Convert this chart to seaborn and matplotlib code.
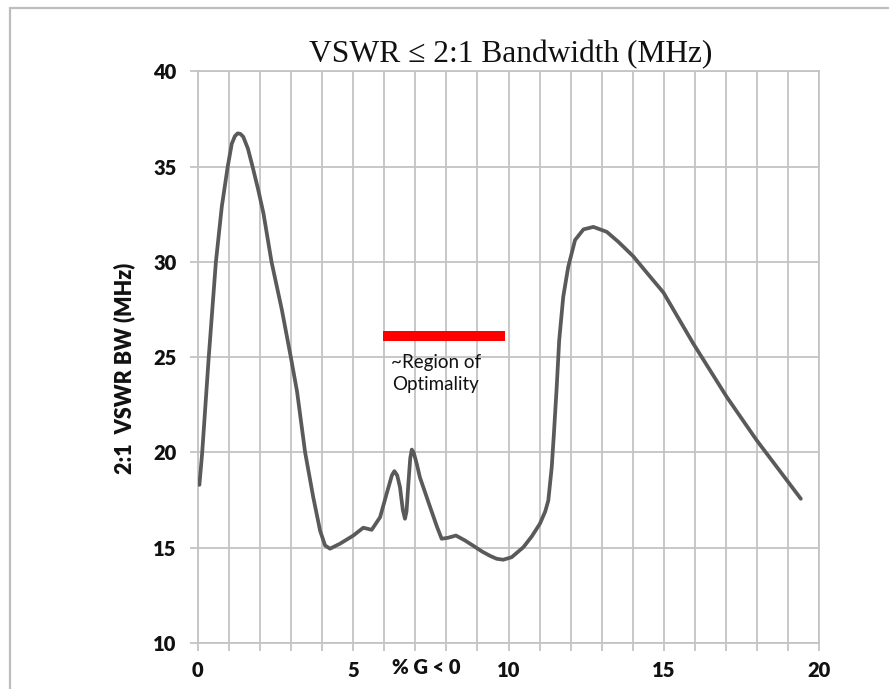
import matplotlib
matplotlib.use("Agg")
import matplotlib.pyplot as plt
from matplotlib.lines import Line2D
import seaborn as sns
import pandas as pd

# ---- data ----
pct_g = [0.06, 0.15, 0.36, 0.59, 0.78, 0.97, 1.10, 1.20, 1.29, 1.38, 1.47, 1.62,
         1.77, 1.95, 2.12, 2.38, 2.71, 3.00, 3.20, 3.46, 3.72, 3.94, 4.10, 4.26,
         4.58, 5.01, 5.33, 5.60, 5.87, 6.08, 6.25, 6.33, 6.42, 6.51, 6.60, 6.67,
         6.72, 6.78, 6.84, 6.89, 6.95, 7.05, 7.15, 7.48, 7.70, 7.85, 8.05, 8.31,
         8.60, 8.87, 9.15, 9.41, 9.62, 9.83, 10.10, 10.48, 10.75, 11.01, 11.18,
         11.28, 11.39, 11.46, 11.55, 11.63, 11.76, 11.92, 12.14, 12.41, 12.73,
         13.16, 13.53, 14.01, 14.44, 14.98, 15.94, 17.02, 17.98, 19.40]
vswr_bw = [18.3, 20.0, 25.0, 30.0, 32.9, 35.0, 36.2, 36.6, 36.75, 36.72, 36.57, 35.95,
           35.0, 33.8, 32.55, 30.0, 27.5, 25.0, 23.2, 20.0, 17.66, 15.9, 15.12, 14.95,
           15.21, 15.64, 16.05, 15.94, 16.6, 17.83, 18.8, 19.02, 18.8, 18.18, 17.0, 16.52,
           16.9, 18.36, 19.7, 20.15, 20.0, 19.4, 18.7, 17.13, 16.1, 15.47, 15.52, 15.64,
           15.38, 15.1, 14.8, 14.57, 14.42, 14.37, 14.5, 15.03, 15.6, 16.26, 16.9,
           17.48, 19.23, 20.99, 23.44, 25.89, 28.17, 29.74, 31.15, 31.71, 31.84,
           31.58, 31.06, 30.3, 29.45, 28.4, 25.72, 22.91, 20.64, 17.57]

region_x = [5.95, 9.9]
region_y = [26.1, 26.1]
region_label = "~Region of\nOptimality"

x_ticks = list(range(0, 21))
x_tick_labels = [str(t) if t % 5 == 0 else "" for t in x_ticks]
y_ticks = [10, 15, 20, 25, 30, 35, 40]

title = "VSWR \u2264 2:1 Bandwidth (MHz)"
x_label = "% G < 0"
y_label = "2:1  VSWR BW (MHz)"

# ---- styling ----
sns.set_theme(style="white")
plt.rcParams["font.family"] = ["Lato", "DejaVu Sans"]

grid_c = "#c4c4c4"
line_c = "#5a5a5a"
txt_c = "#111111"

fig = plt.figure(figsize=(8.89, 6.89), dpi=100)
fig.patch.set_facecolor("white")
ax = fig.add_axes([0.2222, 0.0668, 0.6996, 0.8295])

df = pd.DataFrame({"pct": pct_g, "bw": vswr_bw})
sns.lineplot(data=df, x="pct", y="bw", sort=False, estimator=None, ax=ax,
             color=line_c, linewidth=2.7, solid_joinstyle="round", solid_capstyle="round",
             zorder=3)

ax.plot(region_x, region_y, color="#ff0000", linewidth=7.2, solid_capstyle="butt", zorder=4)
ax.text(sum(region_x) / 2 - 0.27, 24.15, region_label, ha="center", va="center",
        multialignment="center", fontsize=13.5, color=txt_c, linespacing=1.3,
        family=["Lato", "DejaVu Sans"], zorder=5)

ax.set_xlim(0, 20)
ax.set_ylim(10, 40)
ax.set_xticks(x_ticks)
ax.set_xticklabels(x_tick_labels)
ax.set_yticks(y_ticks)
ax.grid(True, color=grid_c, linewidth=1.3)
ax.set_axisbelow(True)
for s in ax.spines.values():
    s.set_color(grid_c)
    s.set_linewidth(1.3)

ax.tick_params(axis="x", bottom=True, length=6, width=1.3, color=grid_c, pad=7,
               labelsize=14.5)
ax.tick_params(axis="y", left=True, length=6, width=1.3, color=grid_c, pad=9,
               labelsize=14.5)
for lab in ax.get_xticklabels() + ax.get_yticklabels():
    lab.set_fontweight("heavy")
    lab.set_color(txt_c)

ax.set_xlabel(x_label, fontsize=14.5, fontweight="heavy", color=txt_c)
ax.xaxis.set_label_coords(0.367, -0.027)
ax.set_ylabel(y_label, fontsize=15.5, fontweight="heavy", color=txt_c)
ax.yaxis.set_label_coords(-0.1, 0.48)

fig.text(0.574, 0.91, title, ha="center", va="baseline", fontsize=22.7,
         family=["Liberation Serif", "DejaVu Serif"], color=txt_c)

# outer frame (gray border of the chart area)
fig.add_artist(Line2D([10 / 889, 10 / 889], [0, 1 - 8 / 689], transform=fig.transFigure,
                      color="#bdbdbd", linewidth=1.6))
fig.add_artist(Line2D([10 / 889, 1], [1 - 8 / 689, 1 - 8 / 689], transform=fig.transFigure,
                      color="#bdbdbd", linewidth=1.6))

fig.savefig("out.png", dpi=100, facecolor="white")
